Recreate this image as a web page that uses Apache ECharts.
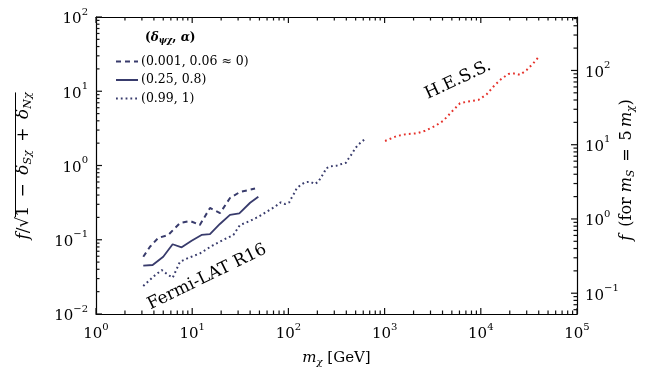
<!DOCTYPE html>
<html>
<head>
<meta charset="utf-8">
<script src="https://cdn.jsdelivr.net/npm/echarts@6/dist/echarts.min.js"></script>
<style>
  html, body { margin: 0; padding: 0; background: #fff; }
  #chart { width: 649px; height: 375px; }
</style>
</head>
<body>
<div id="chart"></div>
<script>
// Fermi-LAT R16 limits, three (delta, alpha) choices
const dashX = [3.1, 3.64, 4.44, 5.64, 7.47, 9.49, 12.0, 15.3, 19.5, 24.7, 31.4, 45];
const dashY = [0.059, 0.0805, 0.106, 0.116, 0.168, 0.179, 0.158, 0.268, 0.229, 0.365, 0.44, 0.49];

const solidX = [3.1, 3.88, 5.0, 6.26, 7.77, 9.86, 12.5, 15.3, 19.4, 24.7, 30.9, 40.0, 48.7];
const solidY = [0.0447, 0.0457, 0.059, 0.087, 0.079, 0.097, 0.116, 0.119, 0.163, 0.216, 0.227, 0.315, 0.38];

const dotX = [3.1, 3.94, 4.82, 5.64, 6.27, 7.47, 8.89, 12.05, 16.6, 22.8, 26.8, 31.4, 39.9, 48.7, 59.5,
  72.6, 83.2, 92.2, 102, 108, 115, 122, 134, 149, 168, 189, 205, 218, 235, 246, 275, 313, 350, 397,
  424, 455, 484, 520, 578, 626];
const dotY = [0.0238, 0.0318, 0.0391, 0.0335, 0.0308, 0.0506, 0.0562, 0.0656, 0.0849, 0.105, 0.116,
  0.158, 0.179, 0.204, 0.239, 0.279, 0.319, 0.303, 0.319, 0.368, 0.422, 0.493, 0.546, 0.594, 0.605,
  0.564, 0.605, 0.693, 0.80, 0.916, 0.975, 0.99, 1.04, 1.09, 1.25, 1.42, 1.62, 1.85, 2.09, 2.28];

// H.E.S.S. limit
const hessX = [1010, 1336, 1698, 2157, 2633, 3343, 4077, 5180, 6078, 7130, 9420, 11500, 13490, 15840,
  19320, 22680, 25540, 29990, 35150, 39630];
const hessY = [2.14, 2.49, 2.65, 2.71, 2.94, 3.40, 4.01, 5.58, 6.88, 7.23, 7.62, 9.09, 11.5, 14.2,
  17.1, 17.4, 16.6, 19.3, 23.8, 28.6];

const legendNames = ['(0.001, 0.06 \u2248 0)', '(0.25, 0.8)', '(0.99, 1)'];

const rightShift = 0.72; // decades between left and right scales
const rMin = Math.pow(10, -2 + rightShift);
const rMax = Math.pow(10, 2 + rightShift);

// tick values: majors and 2..9 minors per decade
const xDecades = [1, 10, 100, 1000, 10000, 100000];
const yDecades = [0.01, 0.1, 1, 10, 100];
const rDecades = [0.01, 0.1, 1, 10, 100];

const tickList = (decades, lo, hi) => {
  const out = [];
  decades.forEach((d) => {
    if (d >= lo && d <= hi) out.push([d, 6]);
    for (let k = 2; k <= 9; k++) {
      if (d * k > lo && d * k < hi) out.push([d * k, 3.5]);
    }
  });
  return out;
};
const xTicks = tickList(xDecades, 1, 100000);
const yTicks = tickList(yDecades, 0.01, 100);
const rTicks = tickList(rDecades, rMin, rMax);

const navy = '#383b6c';
const red = '#e5322b';
const serifName = 'DejaVu Serif';
const serif = '"DejaVu Serif", "Liberation Serif", serif';

const pairs = (xs, ys) => xs.map((x, i) => [x, ys[i]]);

const powLabel = (v) => {
  const l = Math.log10(v);
  const e = Math.round(l);
  if (Math.abs(l - e) > 0.01) return '';
  return '{b|10}{s|' + (e < 0 ? '\u2212' + (-e) : e) + '}';
};
const powRich = {
  b: { fontFamily: serif, fontSize: 15, color: '#000', verticalAlign: 'bottom', lineHeight: 20 },
  s: { fontFamily: serif, fontSize: 10, color: '#000', verticalAlign: 'top', lineHeight: 20, padding: [0, 0, 10, 0] }
};

const logAxis = (position, min, max, withLabels) => ({
  type: 'log',
  min: min,
  max: max,
  position: position,
  axisLine: { show: true, lineStyle: { color: '#000', width: 1.2 } },
  splitLine: { show: false },
  axisTick: { show: false },
  minorTick: { show: false },
  axisLabel: withLabels
    ? { show: true, formatter: powLabel, rich: powRich, margin: 8 }
    : { show: false }
});

// inward ticks drawn through the axes' own scales
const tickSeries = (ticks, side, yIndex) => ({
  type: 'custom',
  xAxisIndex: 0,
  yAxisIndex: yIndex,
  clip: false,
  silent: true,
  z: 10,
  data: ticks.map((t) => {
    if (side === 'bottom') return [t[0], 0.01, t[1]];
    if (side === 'top') return [t[0], 100, t[1]];
    if (side === 'left') return [1, t[0], t[1]];
    return [100000, t[0], t[1]];
  }),
  renderItem: (params, api) => {
    const p = api.coord([api.value(0), api.value(1)]);
    const len = api.value(2);
    const dx = side === 'left' ? len : (side === 'right' ? -len : 0);
    const dy = side === 'bottom' ? -len : (side === 'top' ? len : 0);
    return {
      type: 'line',
      shape: { x1: p[0], y1: p[1], x2: p[0] + dx, y2: p[1] + dy },
      style: { stroke: '#111', lineWidth: 1.2 }
    };
  }
});

// left axis title: f / sqrt(1 - dSx + dNx), laid out with measured widths
const nameSize = 17;
const subSize = 11;
const nameParts = [
  ['i', 'f'], ['o', '/'], ['o', '\u221a'],
  ['o', '1\u2002\u2212\u2002'], ['i', '\u03b4'], ['sub', 'S\u03c7'], ['o', '\u2002+\u2002'], ['i', '\u03b4'], ['sub', 'N\u03c7']
];
const ctx = document.createElement('canvas').getContext('2d');
const fontOf = (k) => k === 'sub'
  ? 'italic ' + subSize + 'px "' + serifName + '"'
  : (k === 'i' ? 'italic ' : '') + nameSize + 'px "' + serifName + '"';
const widths = nameParts.map((p) => { ctx.font = fontOf(p[0]); return ctx.measureText(p[1]).width; });
const totalW = widths.reduce((a, b) => a + b, 0);
const preW = widths[0] + widths[1] + widths[2];
const nameCx = 24;
const nameCy = 166;

const rightNameRich = {
  i: { fontFamily: serif, fontSize: 16, fontStyle: 'italic', fill: '#000' },
  o: { fontFamily: serif, fontSize: 16, fill: '#000' },
  sub: { fontFamily: serif, fontSize: 10.5, fontStyle: 'italic', fill: '#000', verticalAlign: 'bottom', padding: [9, 0, 0, 0] }
};

const chart = echarts.init(document.getElementById('chart'));

const option = {
  animation: false,
  backgroundColor: '#fff',
  grid: { left: 96, right: 72, top: 17, bottom: 61, outerBoundsMode: 'none', containLabel: false },
  title: {
    text: '({d|\u03b4}{sub|\u03c8\u03c7}, {d|\u03b1})',
    left: 140,
    top: 25,
    textStyle: {
      fontFamily: serif, fontSize: 12, fontWeight: 'bold', color: '#000',
      rich: {
        d: { fontFamily: serif, fontSize: 12, fontWeight: 'bold', fontStyle: 'italic', color: '#000' },
        sub: { fontFamily: serif, fontSize: 8.5, fontWeight: 'bold', fontStyle: 'italic', color: '#000', verticalAlign: 'bottom', padding: [6, 0, 0, 0] }
      }
    }
  },
  legend: {
    data: legendNames,
    orient: 'vertical',
    left: 110,
    top: 50,
    itemWidth: 22,
    itemHeight: 10,
    itemGap: 5.5,
    itemStyle: { opacity: 0 },
    textStyle: { fontFamily: serif, fontSize: 12.5, color: '#000', padding: [0, 0, 0, -2] }
  },
  xAxis: [
    Object.assign(logAxis('bottom', 1, 100000, true), {
      name: '{i|m}{sub|\u03c7} [GeV]',
      nameLocation: 'middle',
      nameGap: 35,
      nameTextStyle: {
        fontFamily: serif, fontSize: 15, color: '#000',
        rich: {
          i: { fontFamily: serif, fontSize: 15, fontStyle: 'italic', color: '#000' },
          sub: { fontFamily: serif, fontSize: 10, fontStyle: 'italic', color: '#000', verticalAlign: 'bottom', padding: [8, 0, 0, 0] }
        }
      }
    }),
    logAxis('top', 1, 100000, false)
  ],
  yAxis: [
    logAxis('left', 0.01, 100, true),
    logAxis('right', rMin, rMax, true)
  ],
  series: [
    {
      name: legendNames[0],
      type: 'line',
      data: pairs(dashX, dashY),
      showSymbol: false,
      symbol: 'none',
      lineStyle: { color: navy, width: 2, type: [5, 4] },
      itemStyle: { color: navy }
    },
    {
      name: legendNames[1],
      type: 'line',
      data: pairs(solidX, solidY),
      showSymbol: false,
      symbol: 'none',
      lineStyle: { color: navy, width: 1.8, type: 'solid' },
      itemStyle: { color: navy }
    },
    {
      name: legendNames[2],
      type: 'line',
      data: pairs(dotX, dotY),
      showSymbol: false,
      symbol: 'none',
      lineStyle: { color: navy, width: 2, type: [1.8, 3] },
      itemStyle: { color: navy }
    },
    {
      name: 'H.E.S.S.',
      type: 'line',
      data: pairs(hessX, hessY),
      showSymbol: false,
      symbol: 'none',
      lineStyle: { color: red, width: 2, type: [1.8, 3.2] },
      itemStyle: { color: red }
    },
    tickSeries(xTicks, 'bottom', 0),
    tickSeries(xTicks, 'top', 0),
    tickSeries(yTicks, 'left', 0),
    tickSeries(rTicks, 'right', 1)
  ],
  graphic: [
    {
      type: 'text',
      x: nameCx,
      y: nameCy,
      rotation: Math.PI / 2,
      style: {
        text: nameParts.map((p) => '{' + p[0] + '|' + p[1] + '}').join(''),
        align: 'center',
        verticalAlign: 'middle',
        rich: {
          i: { fontFamily: serif, fontSize: nameSize, fontStyle: 'italic', fill: '#000' },
          o: { fontFamily: serif, fontSize: nameSize, fill: '#000' },
          sub: { fontFamily: serif, fontSize: subSize, fontStyle: 'italic', fill: '#000', verticalAlign: 'bottom', padding: [9, 0, 0, 0] }
        }
      }
    },
    {
      // overline of the square root
      type: 'line',
      shape: {
        x1: nameCx - 8.5, y1: nameCy + totalW / 2 - preW + 0.5,
        x2: nameCx - 8.5, y2: nameCy - totalW / 2
      },
      style: { stroke: '#000', lineWidth: 1 }
    },
    {
      // right axis title
      type: 'text',
      x: 627,
      y: 170,
      rotation: Math.PI / 2,
      style: {
        text: '{i|f}{o|\u2002(for }{i|m}{sub|S}{o|\u2002=\u20025\u2009}{i|m}{sub|\u03c7}{o|)}',
        fontFamily: serif,
        fontSize: 16,
        fill: '#000',
        align: 'center',
        verticalAlign: 'middle',
        rich: rightNameRich
      }
    },
    {
      type: 'text',
      x: 207,
      y: 277,
      rotation: 26 * Math.PI / 180,
      style: {
        text: 'Fermi-LAT R16', fontFamily: serif, fontSize: 17, fill: '#000',
        align: 'center', verticalAlign: 'middle'
      }
    },
    {
      type: 'text',
      x: 458,
      y: 80,
      rotation: 25 * Math.PI / 180,
      style: {
        text: 'H.E.S.S.', fontFamily: serif, fontSize: 17, fill: '#000',
        align: 'center', verticalAlign: 'middle'
      }
    }
  ]
};

chart.setOption(option);
</script>
</body>
</html>
